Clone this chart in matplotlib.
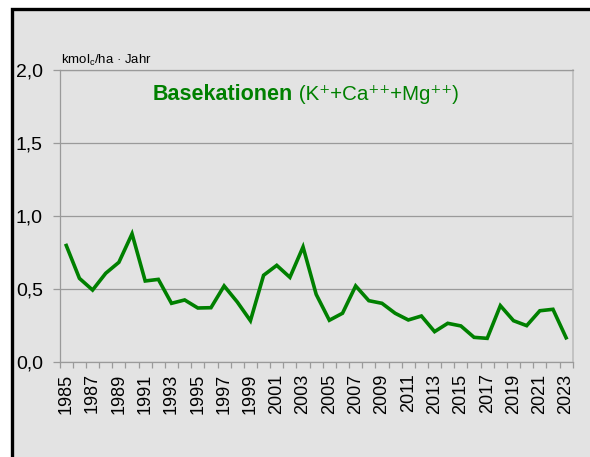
import matplotlib
matplotlib.use("Agg")
import matplotlib.pyplot as plt
from matplotlib.patches import Rectangle
from matplotlib.ticker import FixedLocator, NullFormatter

years = list(range(1985, 2024))
base_cations = [
    0.80, 0.575, 0.495, 0.61, 0.685, 0.88, 0.557, 0.568, 0.404, 0.427,
    0.372, 0.374, 0.523, 0.413, 0.285, 0.596, 0.664, 0.582, 0.79, 0.465,
    0.288, 0.336, 0.523, 0.422, 0.404, 0.336, 0.29, 0.317, 0.21, 0.267,
    0.249, 0.171, 0.164, 0.388, 0.285, 0.251, 0.353, 0.363, 0.168,
]
y_ticks = [0.0, 0.5, 1.0, 1.5, 2.0]
y_tick_labels = ['0,0', '0,5', '1,0', '1,5', '2,0']

GREEN = '#008000'
BG = '#e3e3e3'
GRID = '#9a9a9a'

plt.rcParams['font.family'] = ['Liberation Sans', 'DejaVu Sans']
plt.rcParams['mathtext.fontset'] = 'custom'
plt.rcParams['mathtext.rm'] = 'Liberation Sans'
plt.rcParams['mathtext.it'] = 'Liberation Sans'
plt.rcParams['mathtext.default'] = 'regular'

fig = plt.figure(figsize=(5.9, 4.57), dpi=100, facecolor='white')

# grey panel with black left/top frame
panel = Rectangle((12 / 590, -0.1), 1.2, 1.1 - 9 / 457,
                  transform=fig.transFigure, facecolor=BG,
                  edgecolor='black', linewidth=2.4, zorder=-5)
fig.add_artist(panel)

ax = fig.add_axes([59.7 / 590, 1 - 362.3 / 457,
                   (572.7 - 59.7) / 590, (362.3 - 70.3) / 457])
ax.set_zorder(2)
ax.set_facecolor(BG)

x = list(range(len(years)))
ax.plot(x, base_cations, color=GREEN, linewidth=2.6, solid_joinstyle='miter', zorder=3)

ax.set_xlim(-0.5, len(years) - 0.5)
ax.set_ylim(0, 2.0)

ax.set_yticks(y_ticks)
ax.set_yticklabels(y_tick_labels, fontsize=14)
ax.yaxis.grid(True, color=GRID, linewidth=0.9)
ax.set_axisbelow(True)

ax.set_xticks(x[::2])
ax.set_xticklabels([str(yr) for yr in years[::2]], rotation=90, fontsize=13)
ax.xaxis.set_minor_locator(FixedLocator([i - 0.5 for i in range(len(years) + 1)]))
ax.xaxis.set_minor_formatter(NullFormatter())
ax.tick_params(axis='x', which='major', length=0, pad=8)
ax.tick_params(axis='x', which='minor', length=4.5, color=GRID, width=0.9)
ax.tick_params(axis='y', length=4.7, color=GRID, width=0.9, pad=7.5)

for side in ['left', 'bottom', 'top']:
    ax.spines[side].set_color(GRID)
    ax.spines[side].set_linewidth(0.9)
ax.spines['right'].set_color('#bdbdbd')
ax.spines['right'].set_linewidth(1.2)

ax.text(0.003, 1.008, r'kmol$_c$/ha · Jahr', transform=ax.transAxes,
        fontsize=9.5, va='bottom', ha='left')

# title: bold part, then regular part on the same baseline
t1 = ax.text(0.181, 0.898, 'Basekationen', transform=ax.transAxes,
             fontsize=15.5, fontweight='bold', color=GREEN, va='baseline')
fig.canvas.draw()
bb = t1.get_window_extent()
x_end = ax.transAxes.inverted().transform((bb.x1, bb.y0))[0]
ax.text(x_end, 0.898, ' (K\u207a+Ca\u207a\u207a+Mg\u207a\u207a)', transform=ax.transAxes,
        fontsize=14.8, color=GREEN, va='baseline', ha='left')

plt.savefig('out.png', dpi=100, facecolor=fig.get_facecolor())
